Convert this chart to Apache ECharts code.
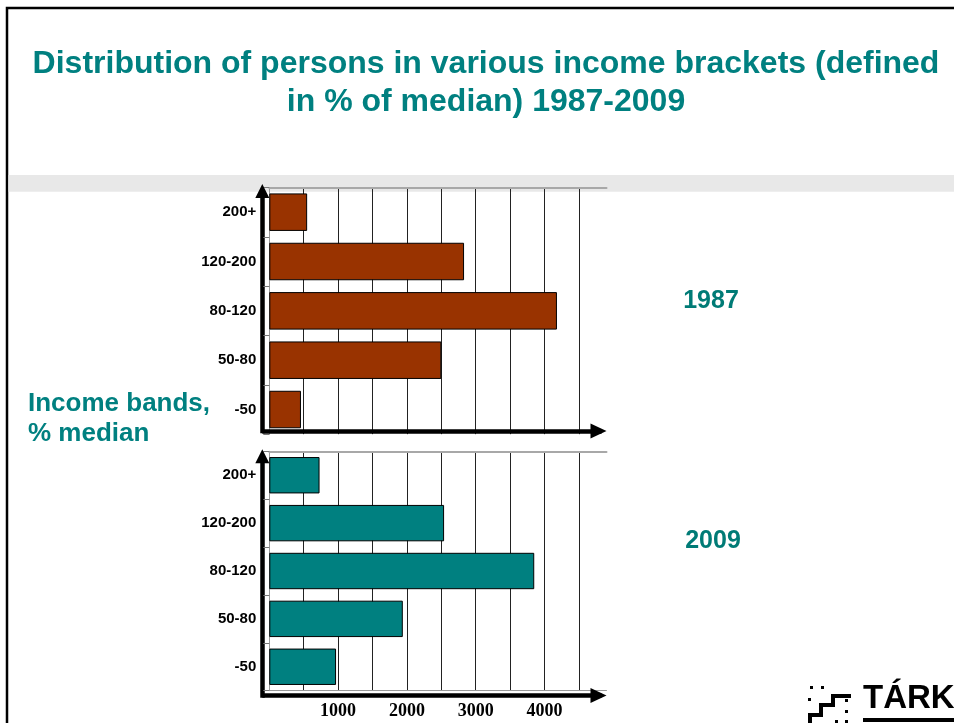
<!DOCTYPE html>
<html>
<head>
<meta charset="utf-8">
<title>Distribution of persons in various income brackets 1987-2009</title>
<script src="https://cdn.jsdelivr.net/npm/echarts@6/dist/echarts.min.js"></script>
<style>
  html, body { margin: 0; padding: 0; background: #ffffff; }
  #chart { width: 954px; height: 723px; }
</style>
</head>
<body>
<div id="chart"></div>
<script>
// Income bands (bottom to top) and number of persons in each band
const bands = ['-50', '50-80', '80-120', '120-200', '200+'];
const persons1987 = [460, 2500, 4180, 2830, 550];
const persons2009 = [970, 1940, 3850, 2540, 730];
const valueTickLabels = [1000, 2000, 3000, 4000];
const yearLabels = ['1987', '2009'];
const titleLines = ['Distribution of persons in various income brackets (defined', 'in % of median) 1987-2009'];
const bandAxisTitle = ['Income bands,', '% median'];

const VALUE_MAX = 4900;
const VALUE_STEP = 500;

const TEAL = '#008080';
const BROWN = '#993300';
const SANS = '"Liberation Sans", Arial, sans-serif';
const SERIF = '"Liberation Serif", "Times New Roman", serif';

const chart = echarts.init(document.getElementById('chart'), null, { renderer: 'canvas' });

// Plot areas for bars, plus a frame grid per panel that carries the thick arrowed axes
const grids = [
  { left: 269.3, top: 187.5, width: 337.2, height: 246.7 },   // 1987 bars
  { left: 262.3, top: 192,   width: 339.2, height: 239 },     // 1987 arrow axes
  { left: 269.3, top: 451.3, width: 337.2, height: 239.4 },   // 2009 bars
  { left: 262.3, top: 457.3, width: 339.2, height: 238.2 }    // 2009 arrow axes
];

function valueAxis(gridIndex, withLabels) {
  return {
    type: 'value', gridIndex, min: 0, max: VALUE_MAX, interval: VALUE_STEP,
    axisLine: { show: withLabels, lineStyle: { color: '#9a9a9a', width: 1 } },
    axisTick: { show: false },
    axisLabel: {
      show: withLabels, margin: 12,
      color: '#000', fontFamily: SERIF, fontWeight: 'bold', fontSize: 18,
      formatter: v => (valueTickLabels.includes(v) ? String(v) : '')
    },
    splitLine: {
      show: true, showMinLine: false, showMaxLine: false,
      lineStyle: { color: '#222', width: 1 }
    }
  };
}

function topEdgeAxis(gridIndex) {
  return {
    type: 'value', gridIndex, position: 'top', min: 0, max: 1,
    axisLine: { show: true, lineStyle: { color: '#a8a8a8', width: 2 } },
    axisTick: { show: false }, axisLabel: { show: false }, splitLine: { show: false }
  };
}

function arrowXAxis(gridIndex) {
  return {
    type: 'value', gridIndex, min: 0, max: 1,
    axisLine: {
      show: true, symbol: ['none', 'triangle'], symbolSize: [15, 16], symbolOffset: [0, -3],
      lineStyle: { color: '#000', width: 4.5, cap: 'butt' }
    },
    axisTick: { show: false }, axisLabel: { show: false }, splitLine: { show: false }
  };
}

function arrowYAxis(gridIndex) {
  return {
    type: 'value', gridIndex, min: 0, max: 1,
    axisLine: {
      show: true, symbol: ['none', 'triangle'], symbolSize: [14, 14], symbolOffset: [0, 1],
      lineStyle: { color: '#000', width: 4.5, cap: 'square' }
    },
    axisTick: { show: false }, axisLabel: { show: false }, splitLine: { show: false }
  };
}

function bandAxis(gridIndex) {
  return {
    type: 'category', gridIndex, data: bands,
    axisLine: { show: true, lineStyle: { color: '#9a9a9a', width: 1 } },
    axisTick: { show: true, length: 6, lineStyle: { color: '#777', width: 1 } },
    axisLabel: { margin: 13, color: '#000', fontFamily: SANS, fontWeight: 'bold', fontSize: 15 },
    splitLine: { show: false }
  };
}

function barSeries(xIdx, yIdx, values, color) {
  return {
    type: 'bar', xAxisIndex: xIdx, yAxisIndex: yIdx, data: values,
    barCategoryGap: '24%',
    itemStyle: { color, borderColor: '#000', borderWidth: 1 },
    silent: true
  };
}

const option = {
  backgroundColor: '#ffffff',
  animation: false,
  grid: grids,
  xAxis: [
    valueAxis(0, false),   // 0
    topEdgeAxis(0),        // 1
    arrowXAxis(1),         // 2
    valueAxis(2, true),    // 3
    topEdgeAxis(2),        // 4
    arrowXAxis(3)          // 5
  ],
  yAxis: [
    bandAxis(0),           // 0
    arrowYAxis(1),         // 1
    bandAxis(2),           // 2
    arrowYAxis(3)          // 3
  ],
  series: [
    barSeries(0, 0, persons1987, BROWN),
    barSeries(3, 2, persons2009, TEAL)
  ],
  graphic: [
    // slide frame and header band
    { type: 'rect', z: -10, shape: { x: 7, y: 8, width: 1000, height: 800 },
      style: { fill: 'none', stroke: '#000', lineWidth: 2.5 } },
    { type: 'rect', z: -10, shape: { x: 8.5, y: 175, width: 950, height: 16.7 },
      style: { fill: '#e8e8e8' } },
    // title
    { type: 'text', x: 486, y: 64.5,
      style: { text: titleLines[0], font: 'bold 32px ' + SANS, fill: TEAL, align: 'center', verticalAlign: 'middle' } },
    { type: 'text', x: 486, y: 102,
      style: { text: titleLines[1], font: 'bold 32px ' + SANS, fill: TEAL, align: 'center', verticalAlign: 'middle' } },
    // band axis caption
    { type: 'text', x: 28, y: 404,
      style: { text: bandAxisTitle[0], font: 'bold 26px ' + SANS, fill: TEAL, align: 'left', verticalAlign: 'middle' } },
    { type: 'text', x: 28, y: 434,
      style: { text: bandAxisTitle[1], font: 'bold 26px ' + SANS, fill: TEAL, align: 'left', verticalAlign: 'middle' } },
    // panel years
    { type: 'text', x: 711, y: 301,
      style: { text: yearLabels[0], font: 'bold 25px ' + SANS, fill: '#007b76', align: 'center', verticalAlign: 'middle' } },
    { type: 'text', x: 713, y: 541,
      style: { text: yearLabels[1], font: 'bold 25px ' + SANS, fill: '#007b76', align: 'center', verticalAlign: 'middle' } },
    // TÁRKI logo
    { type: 'text', x: 863, y: 699,
      style: { text: 'TÁRKI', font: 'bold 33px ' + SANS, fill: '#000', align: 'left', verticalAlign: 'middle' } },
    { type: 'rect', shape: { x: 863, y: 718, width: 95, height: 4 }, style: { fill: '#000' } },
    { type: 'polyline',
      shape: { points: [[810, 725], [810, 715], [821, 715], [821, 705], [833, 705], [833, 696], [851, 696]] },
      style: { stroke: '#000', lineWidth: 4, fill: 'none', lineJoin: 'miter' } },
    { type: 'rect', shape: { x: 810, y: 686, width: 3, height: 3 }, style: { fill: '#000' } },
    { type: 'rect', shape: { x: 821, y: 686, width: 3, height: 3 }, style: { fill: '#000' } },
    { type: 'rect', shape: { x: 808, y: 698, width: 3, height: 3 }, style: { fill: '#000' } },
    { type: 'rect', shape: { x: 845, y: 699, width: 3, height: 3 }, style: { fill: '#000' } },
    { type: 'rect', shape: { x: 845, y: 710, width: 3, height: 3 }, style: { fill: '#000' } },
    { type: 'rect', shape: { x: 835, y: 720, width: 3, height: 3 }, style: { fill: '#000' } },
    { type: 'rect', shape: { x: 845, y: 720, width: 3, height: 3 }, style: { fill: '#000' } }
  ]
};

chart.setOption(option);
</script>
</body>
</html>
